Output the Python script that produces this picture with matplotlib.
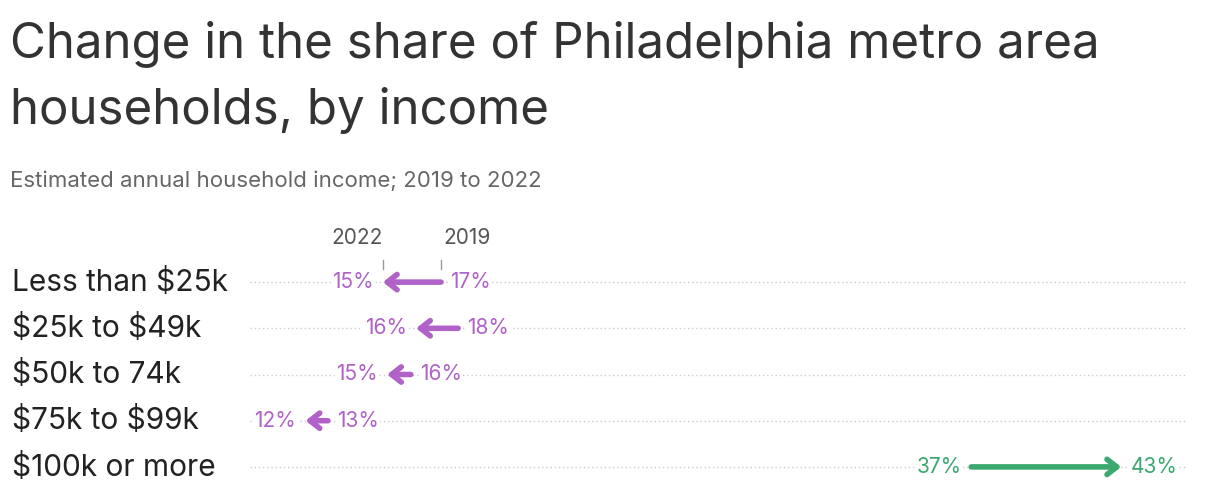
import matplotlib
matplotlib.use("Agg")
import matplotlib.pyplot as plt

categories = ["Less than $25k", "$25k to $49k", "$50k to 74k", "$75k to $99k", "$100k or more"]
v2019 = [17.15, 17.8, 16.0, 12.85, 37.3]
v2022 = [14.94, 16.2, 15.1, 12.0, 43.0]
lab2019 = ["17%", "18%", "16%", "13%", "37%"]
lab2022 = ["15%", "16%", "15%", "12%", "43%"]

plt.rcParams['font.family'] = ['Inter', 'DejaVu Sans']
plt.rcParams['text.parse_math'] = False
W, H = 1220, 504
fig = plt.figure(figsize=(12.2, 5.04), dpi=100)
ax = fig.add_axes([250/W, 1-490/H, 937/W, 231/H])
ax.set_xlim(9.89, 45.5)
ax.set_ylim(4.5, -0.5)
ax.axis('off')
purple, green = '#b062c9', '#3aa86f'
for i, (a, b) in enumerate(zip(v2019, v2022)):
    ax.plot([9.89, 45.5], [i, i], ls=(0, (1, 2)), color='#cccccc', lw=1, zorder=0)
    c = green if b > a else purple
    ax.annotate('', xy=(b, i), xytext=(a, i),
                arrowprops=dict(arrowstyle='->,head_length=0.7,head_width=0.55', color=c, lw=4,
                                shrinkA=0, shrinkB=0))
    left, right = (a, b) if b > a else (b, a)
    ll, rl = (lab2019[i], lab2022[i]) if b > a else (lab2022[i], lab2019[i])
    ax.text(left - 0.35, i, ll, ha='right', va='center', color=c, fontsize=15,
            bbox=dict(fc='white', ec='none', pad=1))
    ax.text(right + 0.35, i, rl, ha='left', va='center', color=c, fontsize=15,
            bbox=dict(fc='white', ec='none', pad=1))
    fig.text(12/W, 1-(282+i*46.3)/H, categories[i], fontsize=21.5, color='#222222', va='center')

for x, t in [(v2022[0], '2022'), (v2019[0], '2019')]:
    ax.plot([x, x], [-0.47, -0.28], color='#999999', lw=1, clip_on=False)
    ax.text(x + (-1.0 if t == '2022' else 1.0), -0.95, t, ha='center', va='center',
            fontsize=15, color='#555555')

fig.text(10/W, 1-45/H, "Change in the share of Philadelphia metro area", fontsize=35.5, color='#333333', va='center')
fig.text(10/W, 1-110/H, "households, by income", fontsize=35.5, color='#333333', va='center')
fig.text(10/W, 1-181/H, "Estimated annual household income; 2019 to 2022", fontsize=16, color='#666666', va='center')
fig.savefig('out.png', dpi=100, facecolor='white')
